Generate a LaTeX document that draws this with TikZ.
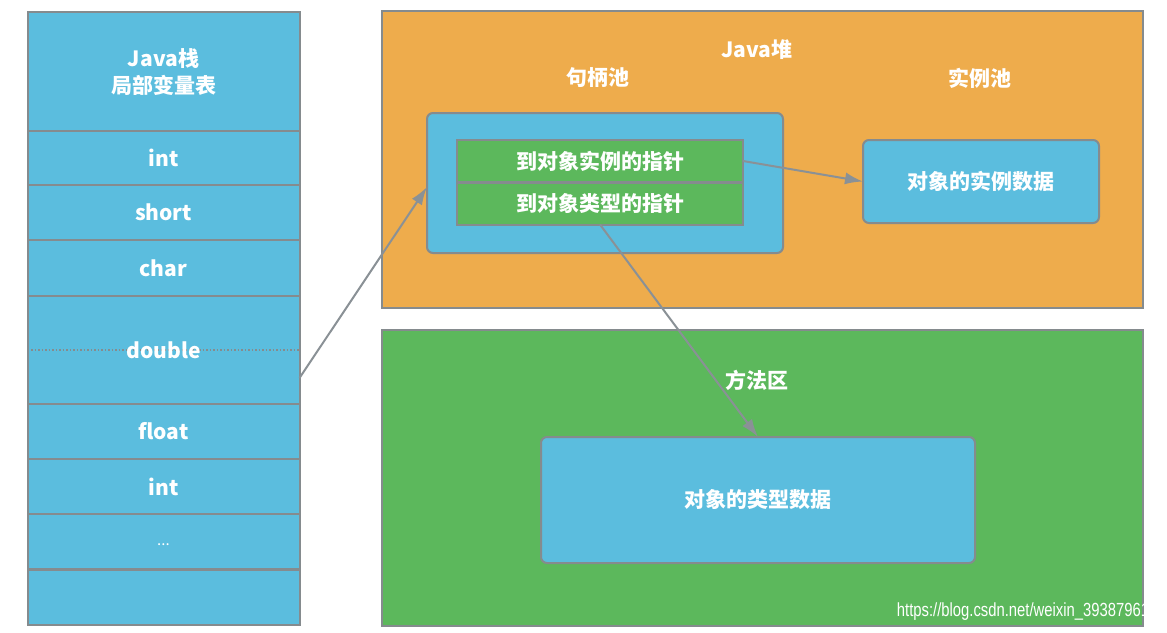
\documentclass[tikz,border=0pt]{standalone}
\usepackage{fontspec}
\setmainfont{Noto Sans CJK SC}
\newfontfamily\wmfont{Liberation Sans}
\usetikzlibrary{arrows.meta}
\definecolor{cblue}{HTML}{5BBDDE}
\definecolor{corange}{HTML}{EEAC4C}
\definecolor{cgreen}{HTML}{5CB85C}
\definecolor{cborder}{HTML}{858B8E}
\definecolor{carrow}{HTML}{8A9196}
\tikzset{
  cell/.style={draw=cborder, line width=2pt, fill=cblue, inner sep=0pt, outer sep=0pt, minimum width=272pt},
  region/.style={draw=cborder, line width=2pt, inner sep=0pt, outer sep=0pt},
  rbox/.style={draw=cborder, line width=2pt, fill=cblue, rounded corners=6pt, inner sep=0pt, outer sep=0pt},
  gbox/.style={draw=cborder, line width=2pt, fill=cgreen, inner sep=0pt, outer sep=0pt, minimum width=286pt, minimum height=42pt},
  lbl/.style={text=white, font=\fontsize{21}{27}\selectfont\bfseries, align=center},
  arr/.style={draw=carrow, line width=2pt, -{Latex[length=18pt,width=12pt]}},
}
\begin{document}
\begin{tikzpicture}[x=1pt,y=-1pt]
\useasboundingbox (0,0) rectangle (1167,632);
\fill[white] (0,0) rectangle (1167,632);
% left stack
\node[cell, minimum height=120pt, lbl] (hdr) at (163.5,72) {Java栈\\局部变量表};
\node[cell, minimum height=54pt, lbl] (int1) at (163.5,158) {int};
\node[cell, minimum height=55pt, lbl] (short) at (163.5,212.5) {short};
\node[cell, minimum height=56pt, lbl] (char) at (163.5,268) {char};
\node[cell, minimum height=108pt] (dbl) at (163.5,350) {};
\draw[cborder, line width=1.5pt, dotted] (dbl.west) -- (dbl.east);
\node[lbl] (dbltext) at (dbl.center) {double};
\node[cell, minimum height=55pt, lbl] (float) at (163.5,431.5) {float};
\node[cell, minimum height=55pt, lbl] (int2) at (163.5,486.5) {int};
\node[cell, minimum height=55pt] (dots) at (163.5,541.5) {};
\node[lbl, font=\fontsize{15}{16}\selectfont] (dotstext) at (163.5,545) {...};
\node[cell, minimum height=55pt] (last) at (163.5,597) {};
% Java heap
\node[region, fill=corange, minimum width=761pt, minimum height=297pt] (heap) at (762.5,159.5) {};
\node[lbl] (heaptitle) at (757,50) {Java堆};
\node[lbl] (hpool) at (598,78) {句柄池};
\node[lbl] (ipool) at (980,78) {实例池};
\node[rbox, minimum width=356pt, minimum height=140pt] (hbox) at (605,183) {};
\node[gbox, lbl] (iptr) at (600,161) {到对象实例的指针};
\node[gbox, lbl] (tptr) at (600,203.5) {到对象类型的指针};
\node[rbox, minimum width=236pt, minimum height=83pt, lbl] (idata) at (981,181.5) {对象的实例数据};
% method area
\node[region, fill=cgreen, minimum width=761pt, minimum height=296pt] (method) at (762.5,478) {};
\node[lbl] (mtitle) at (757,380) {方法区};
\node[rbox, minimum width=434pt, minimum height=126pt, lbl] (tdata) at (758,500) {对象的类型数据};
% arrows
\draw[arr] ([yshift=-28pt]dbl.east) -- ([yshift=-4pt]hbox.west);
\draw[arr] (iptr.east) -- (idata.west);
\draw[arr] (tptr.south) -- (tdata.north);
% watermark
\node[text=white, font=\wmfont\fontsize{19}{22}\selectfont, xscale=0.78] (wm) at (1023,612) {https://blog.csdn.net/weixin\_39387961};
\end{tikzpicture}
\end{document}
